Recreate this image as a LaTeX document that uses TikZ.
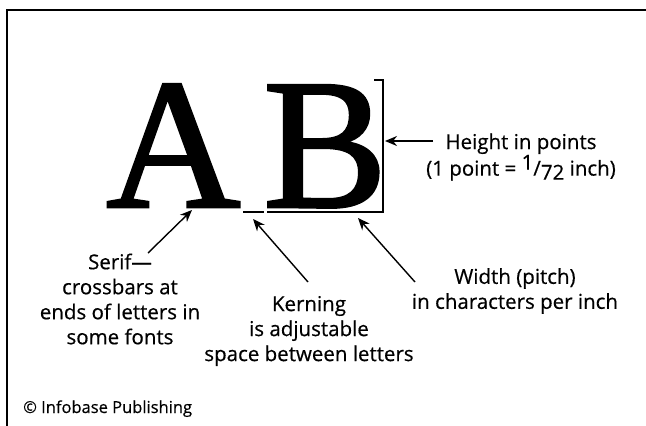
\documentclass[tikz,border=0pt]{standalone}
\usepackage{fontspec}
\setmainfont{Open Sans}[FakeBold=0.5]
\newfontfamily\glyphfont{Liberation Serif}[FakeBold=1.5]
\usetikzlibrary{arrows.meta}

\begin{document}
\begin{tikzpicture}[
  x=1pt, y=-1pt,
  note/.style={font=\fontsize{20.5}{25}\selectfont, align=center, inner sep=0pt},
  glyph/.style={font=\glyphfont\fontsize{186}{186}\selectfont, inner sep=0pt, anchor=base west},
  pointer/.style={-{Stealth[length=12pt,width=10pt]}, line width=1.4pt},
  rule/.style={line width=1.3pt}
]
  \useasboundingbox (0,0) rectangle (646,426);
  % frame
  \draw[line width=1.5pt] (7,426) -- (7,10) -- (646,10);

  % the two letters
  \node[glyph] (letA) at (106,207) {A};
  \node[glyph] (letB) at (263,207) {B};

  % measuring marks
  \coordinate (kernL) at (243,212);
  \coordinate (kernR) at (264,212);
  \coordinate (wideL) at (267,212);
  \coordinate (wideR) at (383,212);
  \coordinate (tallT) at (383,80);
  \draw[rule] (kernL) -- (kernR);
  \draw[rule] (wideL) -- (wideR) -- (tallT) -- ++(-9,0);

  % labels
  \node[note, font=\fontsize{20.5}{23}\selectfont] (height) at (521,157) {Height in points\\(1 point = \raisebox{6pt}{1}/\raisebox{-4pt}{72} inch)};
  \node[note] (serif) at (120,299) {Serif---\\crossbars at\\ends of letters in\\some fonts};
  \node[note] (kerning) at (309,331) {Kerning\\is adjustable\\space between letters};
  \node[note] (width) at (515,291) {Width (pitch)\\in characters per inch};
  \node[note, font=\fontsize{16.5}{18}\selectfont, anchor=base west] (credit) at (23,413) {\textcopyright{} Infobase Publishing};

  % arrows
  \coordinate (heightTail) at (433,141);
  \coordinate (heightTip) at (385,141);
  \coordinate (serifTail) at (148,253);
  \coordinate (serifTip) at (192,210);
  \coordinate (kernTail) at (308,282);
  \coordinate (kernTip) at (253,219);
  \coordinate (widthTail) at (415,282);
  \coordinate (widthTip) at (358,218);
  \draw[pointer] (heightTail) -- (heightTip);
  \draw[pointer] (serifTail) -- (serifTip);
  \draw[pointer] (kernTail) -- (kernTip);
  \draw[pointer] (widthTail) -- (widthTip);
\end{tikzpicture}
\end{document}
